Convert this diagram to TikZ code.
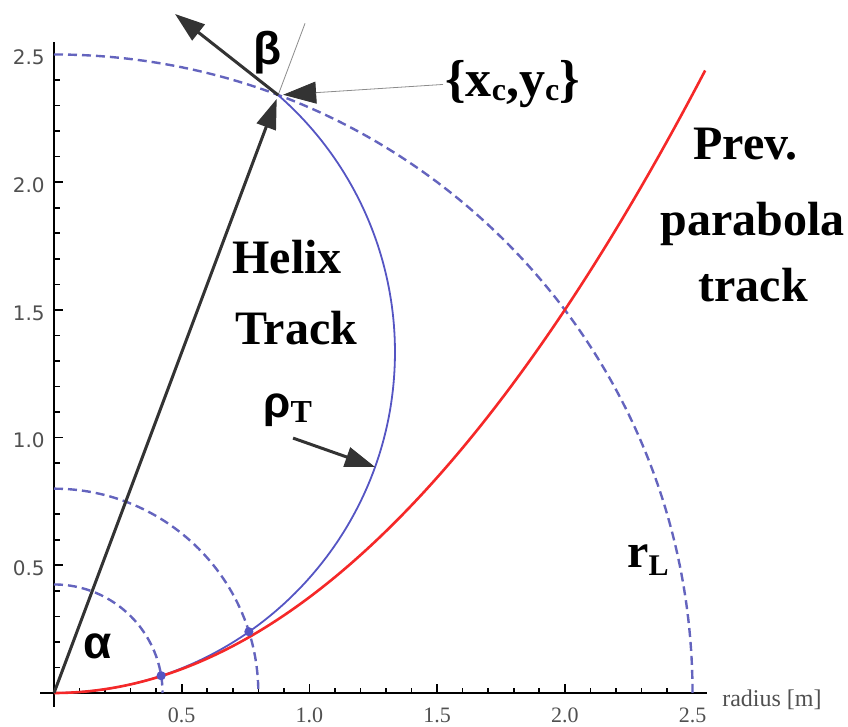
\documentclass[tikz,border=0pt]{standalone}
\usepackage{fontspec}
\setmainfont{Liberation Serif}
\newfontfamily\grk{Liberation Sans}
\newfontfamily\ticksans{DejaVu Sans}
\usetikzlibrary{arrows.meta,calc}

\definecolor{dashblue}{RGB}{100,100,190}
\definecolor{helixblue}{RGB}{85,85,195}
\definecolor{trackred}{RGB}{245,40,40}
\definecolor{darkarrow}{RGB}{51,51,51}
\definecolor{ticktext}{RGB}{80,80,80}

\begin{document}
\begin{tikzpicture}[x=127.7pt,y=127.7pt,
  axisline/.style={line width=1pt, black},
  tickline/.style={line width=0.8pt, black},
  ringline/.style={dashblue, line width=1.2pt, dash pattern=on 4.5pt off 2.5pt},
  helixline/.style={helixblue, line width=0.9pt},
  redline/.style={trackred, line width=1.3pt},
  bigarrow/.style={darkarrow, line width=1.5pt, -{Triangle[length=15pt,width=10pt]}},
  thinline/.style={black!45, line width=0.4pt},
  lbl/.style={font=\fontsize{24}{28}\selectfont\bfseries, inner sep=0pt, anchor=base west},
  grklbl/.style={font=\grk\fontsize{23}{26}\selectfont\bfseries, inner sep=0pt, anchor=base west},
  ylab/.style={font=\ticksans\fontsize{10}{12}\selectfont, text=ticktext, inner sep=0pt, anchor=east},
  xlab/.style={font=\fontsize{11}{13}\selectfont, text=ticktext, inner sep=0pt, anchor=center}
]
\useasboundingbox (-0.21143,-0.12921) rectangle (3.10884,2.71339);

% axes
\draw[axisline] (-0.0548,0) -- (2.557,0);
\draw[axisline] (0,-0.0548) -- (0,2.549);
\foreach \i in {1,...,25} {
  \draw[tickline] (\i/10,0) -- ++(0,0.0196);
  \draw[tickline] (0,\i/10) -- ++(0.0235,0);
}
\foreach \i in {5,10,...,25} {
  \draw[tickline] (\i/10,0) -- ++(0,0.035);
  \draw[tickline] (0,\i/10) -- ++(0.035,0);
}
\foreach \v/\n in {0.5/a,1.0/b,1.5/c,2.0/d,2.5/e} {
  \node[ylab, yshift=-1.5pt] (yl\n) at (-0.035,\v) {\v};
  \node[xlab] (xl\n) at (\v,-0.0861) {\v};
}
\node[font=\fontsize{12}{14}\selectfont, text=ticktext, inner sep=0pt, anchor=west] (axname) at (2.615,-0.027) {radius [m]};

% dashed rings
\draw[ringline] (0,0.425) arc[start angle=90, end angle=0, radius=0.425];
\draw[ringline] (0,0.8) arc[start angle=90, end angle=0, radius=0.8];
\draw[ringline] (0,2.5) arc[start angle=90, end angle=0, radius=2.5];

% coordinates
\coordinate (O) at (0,0);
\coordinate (P) at (0.8776,2.341);
\coordinate (T) at (0.4738,2.6586);
\coordinate (R) at ($(O)!1.12!(P)$);
\coordinate (rhoS) at (0.936,0.998);
\coordinate (rhoE) at (1.257,0.885);

% helix and parabola
\draw[helixline] (O) arc[start angle=-90, end angle=48.9, radius=1.335];
\draw[redline, domain=0:2.55, samples=80, smooth] plot (\x,{0.375*\x*\x});
\fill[helixblue] (0.4195,0.0677) circle[radius=0.018];
\fill[helixblue] (0.763,0.240) circle[radius=0.018];

% thin radial extension
\draw[thinline] (P) -- (R);

% labels
\node[lbl] (helix) at (0.697,1.644) {Helix};
\node[lbl] (track) at (0.709,1.363) {Track};
\node[lbl] (prev) at (2.502,2.087) {Prev.};
\node[lbl] (parab) at (2.373,1.79) {parabola};
\node[lbl] (trk2) at (2.522,1.531) {track};
\node[lbl] (rl) at (2.243,0.493) {r\raisebox{-4pt}{\fontsize{15}{15}\selectfont L}};
\node[grklbl] (alpha) at (0.1135,0.137) {α};
\node[grklbl] (beta) at (0.779,2.459) {β};
\node[grklbl, font=\grk\fontsize{22}{24}\selectfont\bfseries] (rho) at (0.818,1.077) {ρ\raisebox{-2.5pt}{\rmfamily\fontsize{16}{16}\selectfont\bfseries T}};
\node[lbl, font=\fontsize{26}{30}\selectfont\bfseries, inner sep=1pt] (xy) at (1.523,2.334) {\{x\raisebox{-2pt}{\fontsize{16}{16}\selectfont c},y\raisebox{-2pt}{\fontsize{16}{16}\selectfont c}\}};

% arrows
\draw[bigarrow, shorten >=2pt] (O) -- (P);
\draw[bigarrow] (P) -- (T);
\draw[bigarrow] (rhoS) -- (rhoE);
\draw[thinline, -{Triangle[length=16.5pt,width=11pt,color=darkarrow]}, shorten >=2.5pt] (xy.west) -- (P);
\end{tikzpicture}
\end{document}
